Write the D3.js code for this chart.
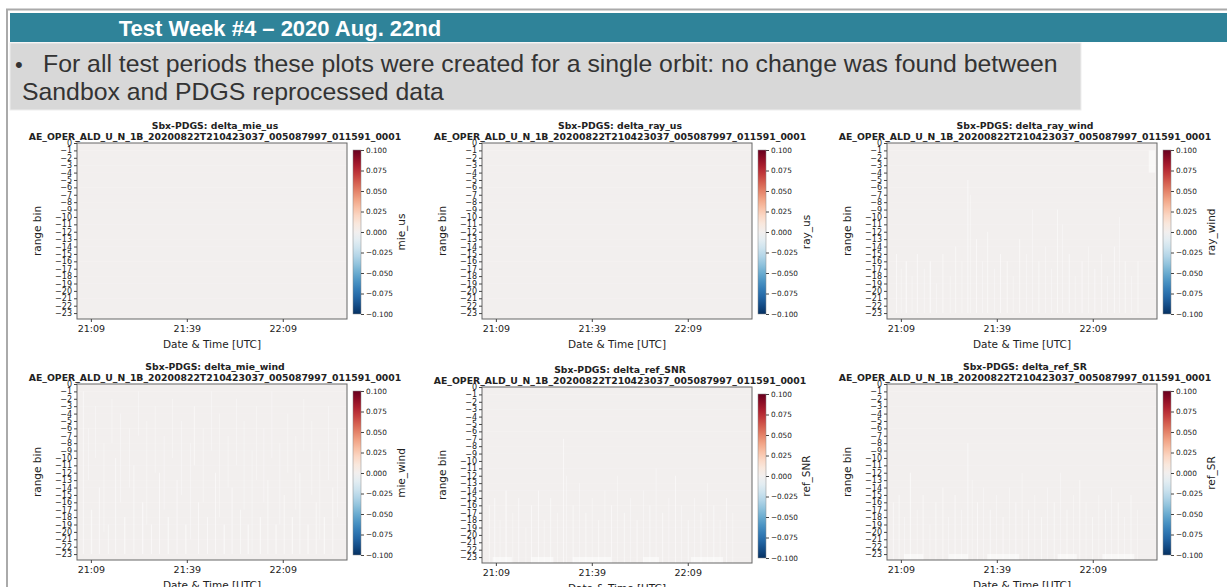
<!DOCTYPE html>
<meta charset="utf-8">
<style>
    body { margin: 0; background: #fff; }
    .slide-title { font-family: "Liberation Sans", Arial, sans-serif; font-weight: bold; fill: #fff; }
    .bullet { font-family: "Liberation Sans", Arial, sans-serif; fill: #333; }
    .chart text { font-family: "DejaVu Sans", sans-serif; fill: #222; }
    .axis path, .axis line { stroke: #444; }
    .cbar-axis path { display: none; }
    .cbar-axis line { stroke: #444; }
</style>
<body>
<svg width="1227" height="587"></svg>
<script src="https://d3js.org/d3.v7.min.js"></script>
<script>
    // ---- data ----
    var slideTitle = "Test Week #4 \u2013 2020 Aug. 22nd";
    var bulletLines = ["For all test periods these plots were created for a single orbit: no change was found between",
                       "Sandbox and PDGS reprocessed data"];
    var fileName = "AE_OPER_ALD_U_N_1B_20200822T210423037_005087997_011591_0001";
    var panelNames = ["delta_mie_us", "delta_ray_us", "delta_ray_wind", "delta_mie_wind", "delta_ref_SNR", "delta_ref_SR"];
    var cbarLabels = ["mie_us", "ray_us", "ray_wind", "mie_wind", "ref_SNR", "ref_SR"];
    var rangeBins = [0, -1, -2, -3, -4, -5, -6, -7, -8, -9, -10, -11, -12, -13, -14, -15, -16, -17, -18, -19, -20, -21, -22, -23];
    var timeTicks = ["21:09", "21:39", "22:09"];
    var timeSpan = ["21:04:40", "22:29:05"];
    var cbarTicks = [0.100, 0.075, 0.050, 0.025, 0.000, -0.025, -0.050, -0.075, -0.100];
    // Sandbox minus PDGS, identical everywhere
    var deltaValues = [0, 0, 0, 0, 0, 0];

    // missing (NaN) columns: [minute after 21:00 start, end, top bin, bottom bin]
    var gapsRayUs = [];
    var gapsMieUs = [];
    var gapsRayWind = [
        [7.5, 7.8, -15, -22], [9.0, 9.2, -17, -22], [10.5, 10.9, -16, -22], [12.4, 12.6, -18, -22],
        [14.0, 14.3, -15, -22], [16.2, 16.4, -17, -22], [18.0, 18.4, -16, -22], [20.1, 20.3, -19, -22],
        [22.0, 22.3, -15, -22], [24.3, 24.5, -18, -22], [26.0, 26.3, -14, -22], [28.0, 28.2, -16, -22],
        [29.8, 30.1, -5, -22], [30.6, 30.8, -7, -22], [32.5, 32.8, -13, -22], [34.4, 34.6, -16, -22],
        [36.0, 36.3, -12, -22], [38.2, 38.4, -17, -22], [40.0, 40.3, -15, -22], [42.1, 42.4, -16, -22],
        [44.0, 44.2, -18, -22], [46.0, 46.3, -13, -22], [48.2, 48.4, -15, -22], [50.0, 50.2, -9, -22],
        [52.0, 52.3, -16, -22], [54.1, 54.3, -14, -22], [56.0, 56.2, -17, -22], [57.8, 58.1, -9, -22],
        [59.5, 59.7, -11, -22], [61.5, 61.8, -15, -22], [63.4, 63.6, -18, -22], [65.5, 65.8, -16, -22],
        [67.5, 67.7, -14, -22], [69.5, 69.8, -17, -22], [71.6, 71.8, -15, -22], [73.5, 73.7, -18, -22],
        [75.6, 75.9, -14, -22], [77.2, 77.4, -10, -22], [79.0, 79.3, -16, -22], [81.0, 81.2, -18, -22],
        [83.0, 83.3, -16, -22], [86.5, 88.5, -1, -3]
    ];
    var gapsMieWind = [
        [6.5, 6.8, -1, -22], [8.2, 8.4, -6, -12], [9.0, 9.4, -17, -22], [10.4, 10.6, -3, -9],
        [11.5, 11.8, -14, -22], [13.0, 13.2, -8, -19], [14.3, 14.6, -19, -22], [15.5, 15.7, -2, -7],
        [16.6, 16.9, -10, -22], [18.2, 18.4, -4, -15], [19.4, 19.8, -18, -22], [21.0, 21.2, -6, -13],
        [22.3, 22.6, -11, -22], [23.8, 24.0, -1, -6], [25.0, 25.4, -16, -22], [26.4, 26.6, -5, -18],
        [27.8, 28.1, -19, -22], [29.0, 29.2, -3, -11], [30.3, 30.6, -12, -22], [31.8, 32.0, -7, -16],
        [33.0, 33.4, -18, -22], [34.5, 34.7, -2, -9], [35.8, 36.1, -13, -22], [37.2, 37.4, -5, -14],
        [38.5, 38.9, -19, -22], [40.0, 40.2, -8, -20], [41.2, 41.5, -3, -10], [42.5, 42.8, -16, -22],
        [44.0, 44.2, -6, -15], [45.3, 45.6, -18, -22], [46.6, 46.8, -1, -8], [47.8, 48.1, -12, -22],
        [49.2, 49.4, -4, -17], [50.5, 50.9, -19, -22], [51.8, 52.0, -7, -13], [53.0, 53.3, -14, -22],
        [54.4, 54.6, -2, -10], [55.6, 55.9, -17, -22], [56.8, 57.0, -5, -16], [58.0, 58.4, -19, -22],
        [59.3, 59.5, -9, -22], [60.6, 60.8, -3, -12], [61.8, 62.2, -18, -22], [63.0, 63.2, -6, -15],
        [64.2, 64.5, -13, -22], [65.5, 65.7, -1, -9], [66.7, 67.1, -19, -22], [68.0, 68.2, -8, -18],
        [69.3, 69.6, -15, -22], [70.5, 70.7, -4, -11], [71.8, 72.2, -18, -22], [73.0, 73.2, -7, -16],
        [74.2, 74.5, -12, -22], [75.5, 75.7, -2, -8], [76.7, 77.1, -19, -22], [78.0, 78.2, -5, -14],
        [79.3, 79.6, -16, -22], [80.5, 80.7, -9, -20], [81.8, 82.2, -18, -22], [83.2, 83.4, -3, -12],
        [84.5, 84.8, -14, -22], [86.0, 86.2, -6, -17]
    ];
    var gapsRefSNR = [
        [6.8, 7.1, -16, -23], [8.5, 8.8, -15, -23], [10.2, 10.4, -18, -23], [12.0, 12.4, -14, -23],
        [14.2, 14.4, -17, -23], [16.0, 16.3, -15, -23], [18.3, 18.5, -19, -23], [20.0, 20.3, -16, -23],
        [22.2, 22.5, -14, -23], [24.0, 24.2, -18, -23], [26.0, 26.3, -15, -23], [28.1, 28.3, -17, -23],
        [30.0, 30.3, -7, -23], [31.0, 31.2, -12, -23], [33.0, 33.3, -16, -23], [35.0, 35.2, -13, -23],
        [37.0, 37.3, -17, -23], [39.0, 39.2, -15, -23], [41.0, 41.3, -18, -23], [43.0, 43.2, -14, -23],
        [45.0, 45.3, -16, -23], [47.0, 47.2, -12, -23], [49.0, 49.3, -17, -23], [51.0, 51.2, -15, -23],
        [53.0, 53.3, -18, -23], [55.0, 55.2, -14, -23], [57.0, 57.3, -16, -23], [59.0, 59.2, -11, -23],
        [61.0, 61.3, -17, -23], [63.0, 63.2, -15, -23], [65.0, 65.3, -12, -23], [67.0, 67.2, -16, -23],
        [69.0, 69.3, -18, -23], [71.0, 71.2, -15, -23], [73.0, 73.3, -17, -23], [75.0, 75.2, -13, -23],
        [77.0, 77.3, -16, -23], [79.0, 79.2, -18, -23], [81.0, 81.3, -15, -23], [83.0, 83.2, -17, -23],
        [8.0, 14.0, -23, -23], [20.0, 27.0, -23, -23], [33.0, 45.0, -23, -23], [55.0, 60.0, -23, -23], [70.0, 80.0, -23, -23]
    ];
    var gapsRefSR = [
        [6.5, 6.8, -16, -23], [8.3, 8.6, -15, -23], [10.0, 10.2, -18, -23], [11.8, 12.2, -12, -23],
        [14.0, 14.2, -17, -23], [15.8, 16.1, -15, -23], [18.0, 18.2, -19, -23], [19.8, 20.1, -16, -23],
        [22.0, 22.3, -14, -23], [23.8, 24.0, -18, -23], [25.8, 26.1, -15, -23], [27.9, 28.1, -17, -23],
        [29.8, 30.1, -8, -23], [31.2, 31.4, -13, -23], [32.8, 33.1, -16, -23], [34.8, 35.0, -14, -23],
        [36.8, 37.1, -17, -23], [38.8, 39.0, -15, -23], [40.8, 41.1, -18, -23], [42.8, 43.0, -14, -23],
        [44.8, 45.1, -16, -23], [46.8, 47.0, -12, -23], [48.8, 49.1, -17, -23], [50.8, 51.0, -15, -23],
        [52.8, 53.1, -18, -23], [54.8, 55.0, -14, -23], [56.8, 57.1, -16, -23], [58.8, 59.0, -12, -23],
        [60.8, 61.1, -17, -23], [62.8, 63.0, -15, -23], [64.8, 65.1, -13, -23], [66.8, 67.0, -16, -23],
        [68.8, 69.1, -18, -23], [70.8, 71.0, -15, -23], [72.8, 73.1, -17, -23], [74.8, 75.0, -14, -23],
        [76.8, 77.1, -16, -23], [78.8, 79.0, -18, -23], [80.8, 81.1, -15, -23], [82.8, 83.0, -17, -23],
        [10.0, 16.0, -23, -23], [24.0, 30.0, -23, -23], [36.0, 46.0, -23, -23], [58.0, 64.0, -23, -23], [72.0, 82.0, -23, -23]
    ];
    var panelGaps = [gapsMieUs, gapsRayUs, gapsRayWind, gapsMieWind, gapsRefSNR, gapsRefSR];

    // ---- layout ----
    var svg = d3.select("svg");
    var plotW = 270, plotH = 176;
    var panelPos = [[77, 143], [482, 143], [887, 143], [77, 384], [482, 387], [887, 384]];

    // slide frame, header bar and bullet box
    svg.append("rect").attr("x", 7).attr("y", 9.5).attr("width", 1240).attr("height", 600)
        .attr("fill", "none").attr("stroke", "#aaa").attr("stroke-width", 2);
    svg.append("rect").attr("x", 10).attr("y", 13).attr("width", 1220).attr("height", 29).attr("fill", "#2f8399");
    svg.append("text").attr("class", "slide-title").attr("x", 280).attr("y", 36)
        .attr("text-anchor", "middle").style("font-size", "22px").text(slideTitle);
    svg.append("rect").attr("x", 10).attr("y", 43).attr("width", 1071).attr("height", 67)
        .attr("fill", "#d8d8d8").attr("stroke", "#eee").attr("stroke-width", 1);
    svg.append("text").attr("class", "bullet").attr("x", 15).attr("y", 72)
        .style("font-size", "22px").text("\u2022");
    svg.selectAll(".bline").data(bulletLines).enter().append("text")
        .attr("class", "bullet bline")
        .attr("x", function (d, i) { return i === 0 ? 43 : 22; })
        .attr("y", function (d, i) { return 72 + i * 28; })
        .style("font-size", "24.8px")
        .text(function (d) { return d; });

    var parseT = d3.timeParse("%H:%M:%S"), parseTick = d3.timeParse("%H:%M");
    var t0 = parseT(timeSpan[0]);
    var color = d3.scaleLinear().domain([0.1, -0.1]).range([0, 1]);
    var cfill = function (v) { return d3.interpolateRdBu(color(v)); };

    var defs = svg.append("defs");
    var grad = defs.append("linearGradient").attr("id", "rdbu").attr("x1", 0).attr("x2", 0).attr("y1", 0).attr("y2", 1);
    d3.range(0, 1.0001, 0.05).forEach(function (s) {
        grad.append("stop").attr("offset", s).attr("stop-color", d3.interpolateRdBu(s));
    });

    panelNames.forEach(function (name, i) {
        var px = panelPos[i][0], py = panelPos[i][1];
        var g = svg.append("g").attr("class", "chart").attr("transform", "translate(" + px + "," + py + ")");

        var x = d3.scaleTime().domain([t0, parseT(timeSpan[1])]).range([0, plotW]);
        var y = d3.scaleLinear().domain([0, -23.8]).range([0, plotH]);
        var minute = function (m) { return new Date(parseT("21:00:00").getTime() + m * 60000); };

        defs.append("clipPath").attr("id", "clip" + i)
            .append("rect").attr("width", plotW).attr("height", plotH);
        var cells = g.append("g").attr("clip-path", "url(#clip" + i + ")");
        cells.append("rect").attr("width", plotW).attr("height", plotH).attr("fill", "#fff");
        cells.selectAll(".row").data(rangeBins).enter().append("rect")
            .attr("x", 0).attr("width", plotW)
            .attr("y", function (b) { return y(b); })
            .attr("height", function (b) { return y(b - 1) - y(b) + 0.3; })
            .attr("fill", cfill(deltaValues[i]));
        cells.selectAll(".gap").data(panelGaps[i]).enter().append("rect")
            .attr("x", function (d) { return x(minute(d[0])); })
            .attr("width", function (d) { return x(minute(d[1])) - x(minute(d[0])); })
            .attr("y", function (d) { return y(d[2]); })
            .attr("height", function (d) { return y(d[3] - 1) - y(d[2]); })
            .attr("fill", "#fff").attr("opacity", 0.55);

        g.append("rect").attr("width", plotW).attr("height", plotH)
            .attr("fill", "none").attr("stroke", "#666").attr("stroke-width", 1);

        var xa = g.append("g").attr("class", "axis").attr("transform", "translate(0," + plotH + ")")
            .call(d3.axisBottom(x).tickValues(timeTicks.map(function (s) { return parseTick(s); }))
                .tickSize(3).tickPadding(3).tickFormat(d3.timeFormat("%H:%M")));
        xa.select(".domain").remove();
        xa.selectAll("text").style("font-size", "9.5px");

        var ya = g.append("g").attr("class", "axis")
            .call(d3.axisLeft(y).tickValues(rangeBins).tickSize(3).tickPadding(2).tickFormat(d3.format("d")));
        ya.select(".domain").remove();
        ya.selectAll("text").style("font-size", "8px");

        g.append("text").attr("transform", "rotate(-90)")
            .attr("x", -plotH / 2).attr("y", -36)
            .attr("text-anchor", "middle").style("font-size", "10.5px").text("range bin");
        g.append("text").attr("x", plotW / 2).attr("y", plotH + 29)
            .attr("text-anchor", "middle").style("font-size", "10.5px").text("Date & Time [UTC]");

        g.append("text").attr("x", plotW / 2 + 3).attr("y", -14)
            .attr("text-anchor", "middle").style("font-size", "9.3px").style("font-weight", "bold")
            .text("Sbx-PDGS: " + name);
        g.append("text").attr("x", plotW / 2 + 3).attr("y", -3.5)
            .attr("text-anchor", "middle").style("font-size", "9.3px").style("font-weight", "bold")
            .text(fileName);

        // colorbar
        var cb = g.append("g").attr("transform", "translate(" + (plotW + 6) + ",7)");
        var cbH = plotH - 12;
        var cy = d3.scaleLinear().domain([0.1, -0.1]).range([0, cbH]);
        cb.append("rect").attr("width", 8).attr("height", cbH).attr("fill", "url(#rdbu)")
            .attr("stroke", "#888").attr("stroke-width", 0.5);
        var ca = cb.append("g").attr("class", "cbar-axis").attr("transform", "translate(8,0)")
            .call(d3.axisRight(cy).tickValues(cbarTicks).tickSize(3).tickPadding(2).tickFormat(d3.format(".3f")));
        ca.selectAll("text").style("font-size", "7.3px");
        cb.append("text").attr("transform", "rotate(-90)")
            .attr("x", -cbH / 2).attr("y", 52)
            .attr("text-anchor", "middle").style("font-size", "10.5px").text(cbarLabels[i]);
    });
</script>
</body>
